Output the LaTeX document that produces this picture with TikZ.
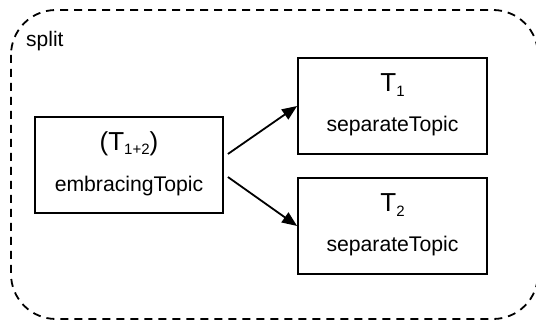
\documentclass[tikz,border=0pt]{standalone}
\usepackage{fontspec}
\setmainfont{Liberation Sans}
\usetikzlibrary{arrows.meta}
\newcommand{\bigT}[1]{{\fontsize{26}{30}\selectfont #1}}
\newcommand{\subT}[1]{\raisebox{-4.5pt}{\fontsize{15}{18}\selectfont #1}}
\begin{document}
\begin{tikzpicture}[x=1pt,y=-1pt,
  topicbox/.style={draw, line width=1.8pt, minimum width=189pt, minimum height=96pt, inner sep=0pt},
  topictext/.style={anchor=base, inner sep=0pt, font=\fontsize{21.2}{25}\selectfont},
  conn/.style={line width=1.8pt, -{Triangle[length=15pt,width=12pt]}},
  frame/.style={line width=1.8pt, dash pattern=on 8pt off 6pt, rounded corners=45pt}]
\clip (0,0) rectangle (536,320);
\useasboundingbox (0,0) rectangle (536,320);
\draw[frame] (11,10) rectangle (538,319);
\node[anchor=base west, font=\fontsize{21}{25}\selectfont, inner sep=0pt] (lbl) at (26,47) {split};
\node[topicbox, minimum width=188pt] (E) at (129,165) {};
\node[topicbox] (A) at (392.5,106) {};
\node[topicbox] (B) at (392.5,226) {};
\node[topictext] (E1) at ([yshift=14.5pt]E.center) {\bigT{(T}\subT{1+2}\bigT{)}};
\node[topictext] (E2) at ([yshift=-27pt]E.center) {embracingTopic};
\node[topictext] (A1) at ([yshift=14pt]A.center) {\bigT{T}\subT{1}};
\node[topictext] (A2) at ([yshift=-26pt]A.center) {separateTopic};
\node[topictext] (B1) at ([yshift=14pt]B.center) {\bigT{T}\subT{2}};
\node[topictext] (B2) at ([yshift=-26pt]B.center) {separateTopic};
\draw[conn] ([xshift=4pt,yshift=11pt]E.east) -- (A.west);
\draw[conn] ([xshift=4pt,yshift=-12pt]E.east) -- (B.west);
\end{tikzpicture}
\end{document}
